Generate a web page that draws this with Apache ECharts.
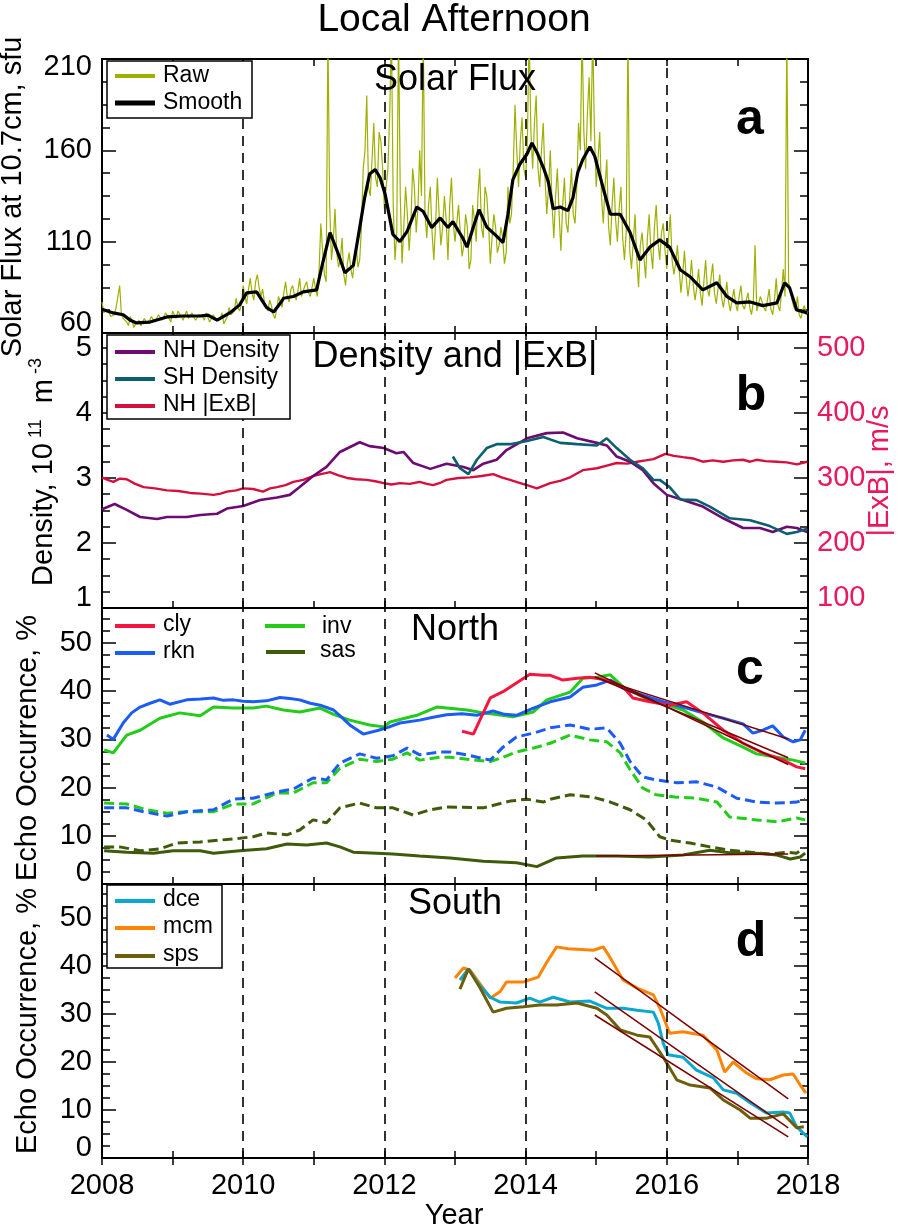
<!DOCTYPE html>
<html><head><meta charset="utf-8">
<script src="https://cdn.jsdelivr.net/npm/echarts/dist/echarts.min.js"></script>
<style>html,body{margin:0;padding:0;background:#fff}#c{width:898px;height:1228px}</style>
</head><body><div id="c"></div>
<script>
const FONT = 'Liberation Sans, Arial, Helvetica, sans-serif';

// ---------- DATA ----------
const yearTicks = [2008, 2010, 2012, 2014, 2016, 2018];
const dashedYears = [2010, 2012, 2014, 2016];

// Panel a: raw solar flux, one value every 0.05 yr from 2008.00
const rawStart = 2008, rawStep = 0.05;
const fluxRaw = [
 77,70,72,68,74,86,68,66,69,63,66,64,68,65,69,66,70,67,71,68,
 72,68,71,67,72,69,71,68,70,67,72,68,69,66,71,66,74,69,79,72,
 86,76,90,78,92,80,77,72,75,68,80,74,88,77,86,78,90,79,88,80,
 90,80,120,92,225,100,128,96,112,86,104,90,108,100,150,190,135,175,140,165,
 128,150,225,100,225,98,140,105,150,115,160,225,112,140,100,145,108,135,100,145,
 110,130,102,125,95,130,110,150,112,135,98,125,104,118,98,140,125,185,140,178,
 145,225,150,190,140,175,125,160,112,150,105,145,115,150,120,175,225,150,200,225,
 140,170,120,155,108,145,110,140,100,225,95,125,85,115,90,125,95,130,100,120,
 95,125,92,108,82,105,80,100,78,95,75,100,80,98,76,92,74,88,72,84,
 72,86,73,82,70,108,71,80,72,84,70,90,72,95,225,88,74,80,68,75,
 72];
// raw values half-way between the above samples (2008.025, 2008.075, ...)
const fluxRawMid = [
 71,73,69,70,75,70,69,64,67,65,67,63,66,67,68,65,69,68,70,66,
 70,72,69,70,68,71,67,70,69,71,66,70,67,68,65,69,70,72,74,76,
 80,84,82,88,85,84,74,78,70,73,77,82,80,84,81,83,80,86,82,85,
 84,95,105,88,130,110,104,100,92,98,95,100,96,118,160,140,155,145,170,150,
 140,180,130,115,135,118,125,120,140,128,135,125,130,115,120,125,118,122,130,120,
 120,115,108,118,100,122,135,118,140,120,112,118,108,112,104,120,150,160,165,150,
 165,170,175,150,160,145,140,130,135,125,130,120,135,125,140,160,170,180,165,170,
 155,135,140,118,130,122,128,112,115,105,110,100,108,102,112,105,118,110,115,105,
 112,100,98,95,92,90,88,86,85,82,88,84,90,82,84,80,80,77,78,76,
 80,75,78,74,77,72,80,74,78,73,78,75,82,80,88,78,72,70,73,70];
const fluxSmooth = [[2008.00,73],[2008.16,71],[2008.30,70],[2008.40,67],[2008.49,65.5],[2008.68,66],[2008.92,68.8],[2009.15,69.3],[2009.39,69.3],[2009.5,69.8],[2009.63,67],[2009.81,71],[2009.95,75.4],[2010.05,82],[2010.19,82.5],[2010.33,74],[2010.43,71.5],[2010.52,76],[2010.57,79],[2010.71,80],[2010.85,82.5],[2011.04,83.6],[2011.13,99],[2011.23,115],[2011.35,103],[2011.44,93],[2011.56,97],[2011.65,117.6],[2011.72,134],[2011.79,147],[2011.87,149.5],[2011.94,145],[2012.01,136],[2012.12,114],[2012.22,110],[2012.32,115.5],[2012.46,129],[2012.55,126.5],[2012.67,117.7],[2012.79,123],[2012.9,117.7],[2012.97,121],[2013.11,112],[2013.17,107],[2013.26,118],[2013.34,127.5],[2013.45,118],[2013.59,113],[2013.68,109.5],[2013.75,125],[2013.82,144],[2013.92,152.5],[2014.02,158],[2014.09,164],[2014.16,159],[2014.25,150.7],[2014.32,143],[2014.39,128],[2014.49,129],[2014.6,127],[2014.67,134],[2014.74,148],[2014.81,155],[2014.91,162],[2014.98,156.7],[2015.08,142],[2015.2,125],[2015.34,125],[2015.48,115],[2015.62,100],[2015.76,107],[2015.9,111],[2016.04,107],[2016.19,94.6],[2016.33,90.8],[2016.51,83.6],[2016.71,87.5],[2016.85,80],[2016.99,76.5],[2017.18,77],[2017.36,75],[2017.56,76.5],[2017.67,87.5],[2017.74,84.7],[2017.84,72.6],[2017.99,71]];

// Panel b
const nhDensity = [[2008.0,2.52],[2008.18,2.6],[2008.35,2.51],[2008.54,2.4],[2008.78,2.37],[2008.92,2.4],[2009.2,2.4],[2009.39,2.43],[2009.63,2.45],[2009.77,2.53],[2010.0,2.57],[2010.24,2.66],[2010.48,2.7],[2010.66,2.74],[2010.8,2.86],[2010.99,3.03],[2011.18,3.17],[2011.37,3.4],[2011.65,3.55],[2011.79,3.49],[2011.99,3.46],[2012.17,3.38],[2012.27,3.4],[2012.41,3.23],[2012.65,3.14],[2012.88,3.22],[2013.12,3.17],[2013.26,3.12],[2013.4,3.22],[2013.59,3.28],[2013.73,3.43],[2014.02,3.61],[2014.3,3.69],[2014.53,3.7],[2014.73,3.61],[2015.01,3.54],[2015.15,3.5],[2015.29,3.33],[2015.48,3.25],[2015.66,3.12],[2015.81,2.92],[2016.0,2.74],[2016.23,2.66],[2016.51,2.56],[2016.8,2.38],[2017.08,2.23],[2017.32,2.23],[2017.5,2.17],[2017.7,2.25],[2017.84,2.23],[2017.99,2.17]];
const shDensity = [[2012.97,3.33],[2013.07,3.15],[2013.19,3.06],[2013.31,3.28],[2013.45,3.46],[2013.59,3.52],[2013.78,3.52],[2014.02,3.57],[2014.25,3.63],[2014.49,3.54],[2014.73,3.52],[2015.01,3.5],[2015.15,3.61],[2015.29,3.46],[2015.48,3.28],[2015.66,3.15],[2015.81,2.97],[2015.9,2.97],[2016.04,2.86],[2016.19,2.67],[2016.42,2.66],[2016.61,2.56],[2016.89,2.38],[2017.18,2.35],[2017.46,2.26],[2017.7,2.14],[2017.84,2.17],[2017.99,2.22]];
const nhExB = [[2008.0,301],[2008.08,297],[2008.16,294],[2008.25,299],[2008.35,298],[2008.47,291],[2008.59,286],[2008.75,284],[2008.92,281],[2009.08,280],[2009.25,277],[2009.4,276],[2009.58,274],[2009.68,276],[2009.77,279],[2009.9,281],[2010.0,284],[2010.14,283],[2010.28,279],[2010.38,284],[2010.48,286],[2010.6,289],[2010.71,294],[2010.85,297],[2010.99,303],[2011.1,306],[2011.23,309],[2011.35,304],[2011.47,300],[2011.6,298],[2011.75,297],[2011.87,295],[2011.99,292],[2012.1,290],[2012.22,292],[2012.36,291],[2012.5,294],[2012.6,291],[2012.69,289],[2012.8,293],[2012.88,297],[2013.05,300],[2013.21,301],[2013.38,303],[2013.54,306],[2013.66,301],[2013.78,297],[2013.9,293],[2014.02,289],[2014.16,284],[2014.25,288],[2014.35,292],[2014.5,296],[2014.63,301],[2014.81,312],[2015.01,315],[2015.15,319],[2015.29,323],[2015.44,322],[2015.58,325],[2015.7,327],[2015.81,329],[2015.98,337],[2016.1,334],[2016.23,332],[2016.37,330],[2016.51,325],[2016.65,327],[2016.8,325],[2016.94,327],[2017.08,328],[2017.18,325],[2017.27,328],[2017.4,326],[2017.56,325],[2017.7,324],[2017.84,321],[2017.99,325]];

// Panel c (North)
const cly = [[2013.1,31.7],[2013.26,31.1],[2013.4,35.5],[2013.5,38.6],[2013.68,39.9],[2013.87,41.7],[2014.06,43.5],[2014.25,43.3],[2014.35,43.3],[2014.53,42.3],[2014.73,42.7],[2014.91,42.9],[2015.15,42.3],[2015.38,40.9],[2015.52,38.6],[2015.76,37.8],[2016.04,37.1],[2016.28,37.8],[2016.51,35.5],[2016.8,31.9],[2017.08,29.2],[2017.36,27.2],[2017.65,25.7],[2017.84,24.3],[2017.96,23.9]];
const rkn = [[2008.07,30.9],[2008.16,30],[2008.3,33.4],[2008.42,35.5],[2008.54,36.7],[2008.68,37.5],[2008.82,38.2],[2008.96,37.3],[2009.2,38.2],[2009.4,38.4],[2009.58,38.6],[2009.72,38.1],[2009.86,38.2],[2010.0,37.9],[2010.14,37.8],[2010.33,38],[2010.52,38.7],[2010.66,38.5],[2010.8,38.2],[2010.95,37.5],[2011.09,37.1],[2011.28,36.1],[2011.4,34.5],[2011.51,33],[2011.7,31.1],[2011.89,31.8],[2012.03,32.4],[2012.22,33.4],[2012.5,34],[2012.69,34.6],[2012.88,35.1],[2013.1,35.3],[2013.31,35],[2013.54,35.9],[2013.7,35.2],[2013.87,35],[2014.11,36.5],[2014.35,37.8],[2014.63,38.8],[2014.81,40.8],[2015.01,41.3],[2015.2,42.3],[2015.38,40.6],[2015.66,39.2],[2015.95,37.8],[2016.23,36.7],[2016.51,35.5],[2016.8,34.4],[2017.08,33.2],[2017.22,31.3],[2017.36,31.9],[2017.5,32.8],[2017.65,30.5],[2017.79,29.5],[2017.89,29.9],[2017.96,31.9]];
const inv = [[2008.03,27.8],[2008.16,27.2],[2008.35,30.9],[2008.54,31.9],[2008.82,34.4],[2009.1,35.5],[2009.39,34.9],[2009.58,36.7],[2009.86,36.5],[2010.14,36.5],[2010.33,36.9],[2010.57,36.1],[2010.8,35.7],[2011.09,36.5],[2011.28,35.2],[2011.51,34],[2011.79,33],[2011.99,32.6],[2012.08,33.6],[2012.46,35],[2012.74,36.7],[2013.17,36.1],[2013.4,35.5],[2013.82,34.7],[2014.11,35.7],[2014.3,38.2],[2014.63,39.8],[2014.81,42.7],[2015.01,42.9],[2015.2,43.4],[2015.38,40.9],[2015.66,38.8],[2015.95,37.5],[2016.23,36.1],[2016.51,33.6],[2016.8,30.3],[2017.08,28.4],[2017.27,27],[2017.56,26.3],[2017.79,25.7],[2017.96,25.1]];
const sas = [[2008.03,6.9],[2008.35,6.6],[2008.73,6.4],[2009.01,6.9],[2009.39,6.9],[2009.58,6.4],[2009.95,6.9],[2010.33,7.3],[2010.62,8.3],[2010.9,8.1],[2011.18,8.5],[2011.37,7.7],[2011.56,6.6],[2011.89,6.4],[2012.12,6.2],[2012.5,5.8],[2012.93,5.4],[2013.4,4.7],[2013.87,4.4],[2014.16,3.6],[2014.44,5.4],[2014.81,5.8],[2015.29,5.8],[2015.76,5.6],[2016.23,6],[2016.61,7],[2016.94,6.4],[2017.27,6.4],[2017.56,6],[2017.75,5.2],[2017.89,5.6],[2017.96,6.4]];
const rknDash = [[2008.03,15.8],[2008.35,15.8],[2008.59,15],[2008.92,14.1],[2009.2,15],[2009.58,15.4],[2009.86,17.6],[2010.14,17.8],[2010.48,19.1],[2010.71,19.7],[2010.99,22],[2011.18,21.6],[2011.37,25.1],[2011.65,27],[2011.89,26.1],[2012.12,26.6],[2012.32,28.2],[2012.5,26.8],[2012.79,27.4],[2012.93,27.4],[2013.17,26.8],[2013.5,25.7],[2013.68,28.4],[2013.87,30.5],[2014.11,31.3],[2014.35,32.4],[2014.63,33],[2014.91,32.1],[2015.15,32.4],[2015.34,29.2],[2015.48,25.4],[2015.66,22.2],[2015.85,21.6],[2016.14,21],[2016.42,21.2],[2016.71,20.1],[2016.99,17.8],[2017.27,17],[2017.56,16.8],[2017.84,17],[2017.96,17.6]];
const invDash = [[2008.03,16.8],[2008.35,16.6],[2008.63,15.4],[2008.92,14.7],[2009.2,15],[2009.58,15],[2009.86,16.6],[2010.14,16.6],[2010.48,18.9],[2010.71,18.9],[2010.99,21],[2011.18,21],[2011.37,24],[2011.65,25.9],[2011.89,25.4],[2012.12,25.9],[2012.32,27.2],[2012.5,25.7],[2012.79,26.3],[2012.93,26.3],[2013.17,25.9],[2013.5,25.4],[2013.68,26.3],[2013.87,27.4],[2014.11,28.2],[2014.35,29.2],[2014.63,30.9],[2014.91,29.9],[2015.15,29.5],[2015.34,27.2],[2015.48,23.7],[2015.66,19.9],[2015.85,18.5],[2016.14,18],[2016.42,17.8],[2016.71,17],[2016.89,13.9],[2017.27,13.3],[2017.56,12.9],[2017.84,13.7],[2017.96,13.3]];
const sasDash = [[2008.03,7.7],[2008.25,7.7],[2008.54,6.9],[2008.82,7.3],[2009.06,8.5],[2009.39,8.7],[2009.67,9.1],[2009.95,9.5],[2010.14,9.8],[2010.33,10.6],[2010.62,10.2],[2010.8,11.2],[2010.99,13.3],[2011.18,12.7],[2011.37,15.8],[2011.65,16.8],[2011.89,15.8],[2012.12,15.8],[2012.41,14.3],[2012.65,15.4],[2012.88,16],[2013.4,15.8],[2013.78,17.2],[2014.02,17.6],[2014.25,17],[2014.35,17.6],[2014.63,18.5],[2014.96,18],[2015.2,17],[2015.48,15.4],[2015.71,13.3],[2015.9,9.8],[2016.04,9.1],[2016.33,8.5],[2016.61,7.7],[2016.89,7],[2017.18,6.6],[2017.46,6.2],[2017.7,6.6],[2017.84,6.4],[2017.94,7.5]];
const fitCly = [[2014.98,43.8],[2017.72,24.8]];
const fitInv = [[2014.98,43.0],[2017.72,26.2]];
const fitRkn = [[2015.1,42.3],[2017.72,30.1]];
const fitSas = [[2015.0,5.8],[2017.72,6.2]];

// Panel d (South)
const mcm = [[2013.0,37.5],[2013.12,39.6],[2013.21,39.2],[2013.35,36.4],[2013.5,33.3],[2013.64,34.7],[2013.73,36.7],[2013.97,36.7],[2014.18,37.7],[2014.3,40.8],[2014.44,44],[2014.6,43.6],[2014.73,43.5],[2014.96,43.3],[2015.1,44],[2015.2,41.7],[2015.38,37.1],[2015.58,35.4],[2015.81,34],[2015.9,31.3],[2016.04,26],[2016.23,26.3],[2016.51,25.6],[2016.71,22.5],[2016.82,17.9],[2016.94,20],[2017.13,17.7],[2017.27,16.5],[2017.46,16.3],[2017.65,17.3],[2017.79,17.5],[2017.89,15.2],[2017.97,13.5]];
const dce = [[2013.07,37.1],[2013.19,39.4],[2013.35,36],[2013.5,33.5],[2013.64,32.5],[2013.87,32.3],[2014.06,33.3],[2014.2,32.5],[2014.39,33.5],[2014.63,32.5],[2014.91,32.7],[2015.15,31.2],[2015.38,31.2],[2015.58,30.8],[2015.81,30.4],[2015.88,28.1],[2015.95,23.9],[2016.02,21.5],[2016.23,21],[2016.42,18.3],[2016.66,16.7],[2016.8,14.2],[2016.99,13.5],[2017.18,11.5],[2017.41,9.4],[2017.65,9.6],[2017.74,9.4],[2017.84,6.5],[2017.99,4.4]];
const sps = [[2013.07,35.2],[2013.19,39.4],[2013.35,35.6],[2013.54,30.4],[2013.73,31.2],[2013.97,31.5],[2014.2,31.9],[2014.44,31.9],[2014.73,32.3],[2015.01,31.2],[2015.15,29.8],[2015.34,26.7],[2015.58,25.6],[2015.76,25.2],[2015.95,21],[2016.14,16.3],[2016.33,15.2],[2016.61,14.6],[2016.8,12.1],[2017.04,10],[2017.18,8.3],[2017.41,8.3],[2017.65,9.2],[2017.84,6.3],[2017.94,6.5]];
const fitMcm = [[2014.98,41.7],[2017.72,12.3]];
const fitDce = [[2014.98,34.6],[2017.72,6.3]];
const fitSps = [[2014.98,29.8],[2017.72,4.4]];

// ---------- BUILD ----------
const rawData = [];
fluxRaw.forEach((v, i) => {
  const t = rawStart + i * rawStep;
  rawData.push([+t.toFixed(3), v]);
  if (i < fluxRawMid.length) rawData.push([+(t + rawStep / 2).toFixed(3), fluxRawMid[i]]);
});

const C = {
  raw:'#9fb000', smooth:'#000000', nh:'#6e0a73', sh:'#0b5f6e', exb:'#d5103f', exbText:'#e8195d',
  cly:'#f5163f', rkn:'#1a5cf5', inv:'#22cc18', sas:'#3f5a0a', dce:'#0aa8cf', mcm:'#ff8405', sps:'#6d5e0c', fit:'#7a0000'
};
const TL = 29; // tick label size

const grids = [
  {left:102, right:90, top:59, height:274},
  {left:102, right:90, top:333, height:275},
  {left:102, right:90, top:608, height:276},
  {left:102, right:90, top:884, height:274}
].map(g => Object.assign(g, {show:true, borderColor:'#000', borderWidth:2, backgroundColor:'transparent', containLabel:false}));

function makeX(gi, pos, labels) {
  return {type:'value', gridIndex:gi, position:pos, min:2008, max:2018, interval:1,
    axisLine:{show:false}, splitLine:{show:false},
    axisTick:{show:true, inside:true, length:7, lineStyle:{color:'#000', width:1.5}},
    axisLabel: labels ? {show:true, margin:13, fontSize:TL, fontFamily:FONT, color:'#000',
      formatter: v => (yearTicks.indexOf(v) >= 0 ? String(v) : '')} : {show:false}};
}
function richFor(color) {
  const base = {fontSize:TL, fontFamily:FONT, color};
  return {
    up: Object.assign({}, base, {padding:[0,0,20,0]}),
    up22: Object.assign({}, base, {padding:[0,0,22,0]}),
    dn: Object.assign({}, base, {padding:[16,0,0,0]})
  };
}
function makeY(gi, pos, min, max, interval, label) {
  return {type:'value', gridIndex:gi, position:pos, min, max, interval,
    axisLine:{show:false}, splitLine:{show:false},
    axisTick:{show:true, inside:true, length:14, lineStyle:{color:'#000', width:1.5}},
    minorTick:{show:true, splitNumber:4, length:8, lineStyle:{color:'#000', width:1.5}},
    axisLabel: label || {show:false}};
}
function yLabel(color, shifts, showMax, margin) {
  return {show:true, margin:margin || 10, fontSize:TL, fontFamily:FONT, color, showMaxLabel:showMax,
    formatter: v => { const k = shifts[v]; return k ? '{' + k + '|' + v + '}' : String(v); },
    rich: richFor(color)};
}

const xAxis = [], yAxis = [];
for (let i = 0; i < 4; i++) { xAxis.push(makeX(i, 'bottom', i === 3)); xAxis.push(makeX(i, 'top', false)); }
yAxis.push(makeY(0, 'left', 60, 210, 50, yLabel('#000', {60:'up', 210:'dn'}, true)));
yAxis.push(makeY(0, 'right', 60, 210, 50));
yAxis.push(makeY(1, 'left', 1, 5.23, 1, yLabel('#000', {1:'up'}, false)));
yAxis.push(makeY(1, 'right', 100, 523, 100, yLabel(C.exbText, {100:'up'}, false, 9)));
yAxis.push(makeY(2, 'left', 0, 57.26, 10, yLabel('#000', {0:'up22'}, false)));
yAxis.push(makeY(2, 'right', 0, 57.26, 10));
yAxis.push(makeY(3, 'left', 0, 57.1, 10, yLabel('#000', {0:'up'}, false)));
yAxis.push(makeY(3, 'right', 0, 57.1, 10));

function ln(name, data, gi, yi, color, width, dash, z) {
  return {name, type:'line', data, xAxisIndex:gi*2, yAxisIndex:yi, showSymbol:false, symbol:'none',
    lineStyle:{color, width, type: dash || 'solid'}, itemStyle:{color}, z: z || 3, silent:true, animation:false};
}
function vlines(gi) {
  return {type:'line', data:[], xAxisIndex:gi*2, yAxisIndex:gi*2, symbol:'none', z:10, silent:true,
    markLine:{silent:true, symbol:['none','none'], label:{show:false}, animation:false,
      lineStyle:{color:'#000', width:1.6, type:[10,7]},
      data: dashedYears.map(y => ({xAxis:y}))}};
}
const D = [10,5];
const series = [
  ln('Raw', rawData, 0, 0, C.raw, 1.2, null, 2),
  ln('Smooth', fluxSmooth, 0, 0, C.smooth, 3.2, null, 3),
  vlines(0),
  ln('NH |ExB|', nhExB, 1, 3, C.exb, 2.4),
  ln('NH Density', nhDensity, 1, 2, C.nh, 2.6),
  ln('SH Density', shDensity, 1, 2, C.sh, 2.6),
  vlines(1),
  ln('sas dash', sasDash, 2, 4, C.sas, 3, D),
  ln('inv dash', invDash, 2, 4, C.inv, 3, D),
  ln('rkn dash', rknDash, 2, 4, C.rkn, 3, D),
  ln('sas', sas, 2, 4, C.sas, 3),
  ln('inv', inv, 2, 4, C.inv, 3),
  ln('rkn', rkn, 2, 4, C.rkn, 3),
  ln('cly', cly, 2, 4, C.cly, 3),
  ln('fit cly', fitCly, 2, 4, C.fit, 1.5, null, 5),
  ln('fit inv', fitInv, 2, 4, C.fit, 1.5, null, 5),
  ln('fit rkn', fitRkn, 2, 4, C.fit, 1.5, null, 5),
  ln('fit sas', fitSas, 2, 4, C.fit, 1.5, null, 5),
  vlines(2),
  ln('mcm', mcm, 3, 6, C.mcm, 3),
  ln('dce', dce, 3, 6, C.dce, 3),
  ln('sps', sps, 3, 6, C.sps, 3),
  ln('fit mcm', fitMcm, 3, 6, C.fit, 1.5, null, 5),
  ln('fit dce', fitDce, 3, 6, C.fit, 1.5, null, 5),
  ln('fit sps', fitSps, 3, 6, C.fit, 1.5, null, 5),
  vlines(3)
];

// ---------- TEXT & LEGENDS ----------
function txt(text, x, y, size, opt) {
  opt = opt || {};
  const st = {text, x:0, y:0, fontSize:size, fontFamily:FONT, fontWeight:opt.bold ? 'bold' : 'normal',
    fill:opt.color || '#000', align:opt.align || 'center', textAlign:opt.align || 'center',
    verticalAlign:'middle', textVerticalAlign:'middle'};
  if (opt.rich) st.rich = opt.rich;
  return {type:'text', x, y, rotation:opt.rot || 0, style:st, z:100, silent:true};
}
function seg(x1, x2, y, color, w) {
  return {type:'line', shape:{x1, y1:y, x2, y2:y}, style:{stroke:color, lineWidth:w}, z:100, silent:true};
}
function box(x, y, w, h) {
  return {type:'rect', shape:{x, y, width:w, height:h}, style:{fill:'#fff', stroke:'#000', lineWidth:1.5}, z:99, silent:true};
}
const R = Math.PI / 2;
const graphic = [
  txt('Local Afternoon', 454, 20, 39),
  txt('Solar Flux', 455, 80, 36),
  txt('Density and |ExB|', 455, 357, 36),
  txt('North', 455, 630, 36),
  txt('South', 455, 904, 36),
  txt('a', 750, 120, 50, {bold:true}),
  txt('b', 751, 396, 50, {bold:true}),
  txt('c', 750, 670, 50, {bold:true}),
  txt('d', 751, 942, 50, {bold:true}),
  txt('Year', 454, 1216, 29),
  txt('Solar Flux at 10.7cm, sfu', 13, 197, 29, {rot:R}),
  txt('{a|Density, 10}{s| 11}{a|  m}{s| -3}', 44, 472, 29, {rot:R, rich:{
    a:{fontSize:29, fontFamily:FONT, fill:'#000', lineHeight:34},
    s:{fontSize:18, fontFamily:FONT, fill:'#000', lineHeight:20, verticalAlign:'top'}}}),
  txt('|ExB|, m/s', 880, 471, 29, {rot:R, color:C.exbText}),
  txt('Echo Occurrence, %', 28, 748, 29, {rot:R}),
  txt('Echo Occurrence, %', 28, 1021, 29, {rot:R}),
  // legend a
  box(107, 61, 145, 57),
  seg(115, 155, 76, C.raw, 4), txt('Raw', 163, 76, 23, {align:'left'}),
  seg(115, 155, 103, C.smooth, 5), txt('Smooth', 163, 103, 23, {align:'left'}),
  // legend b
  box(107, 335, 183, 84),
  seg(115, 155, 352, C.nh, 4), txt('NH Density', 163, 351, 23, {align:'left'}),
  seg(115, 155, 379, C.sh, 4), txt('SH Density', 163, 378, 23, {align:'left'}),
  seg(115, 155, 406, C.exb, 4), txt('NH |ExB|', 163, 405, 23, {align:'left'}),
  // legend c
  seg(115, 155, 626, C.cly, 4), txt('cly', 163, 625, 23, {align:'left'}),
  seg(115, 155, 653, C.rkn, 4), txt('rkn', 163, 652, 23, {align:'left'}),
  seg(265, 305, 626, C.inv, 4), txt('inv', 322, 627, 23, {align:'left'}),
  seg(266, 305, 652, C.sas, 4), txt('sas', 320, 651, 23, {align:'left'}),
  // legend d
  box(107, 885, 115, 83),
  seg(115, 155, 901, C.dce, 4), txt('dce', 163, 900, 23, {align:'left'}),
  seg(115, 155, 928, C.mcm, 4), txt('mcm', 163, 927, 23, {align:'left'}),
  seg(115, 155, 956, C.sps, 4), txt('sps', 163, 955, 23, {align:'left'})
];

const chart = echarts.init(document.getElementById('c'), null, {renderer:'canvas'});
chart.setOption({animation:false, backgroundColor:'#fff', grid:grids, xAxis, yAxis, series, graphic});
</script></body></html>
